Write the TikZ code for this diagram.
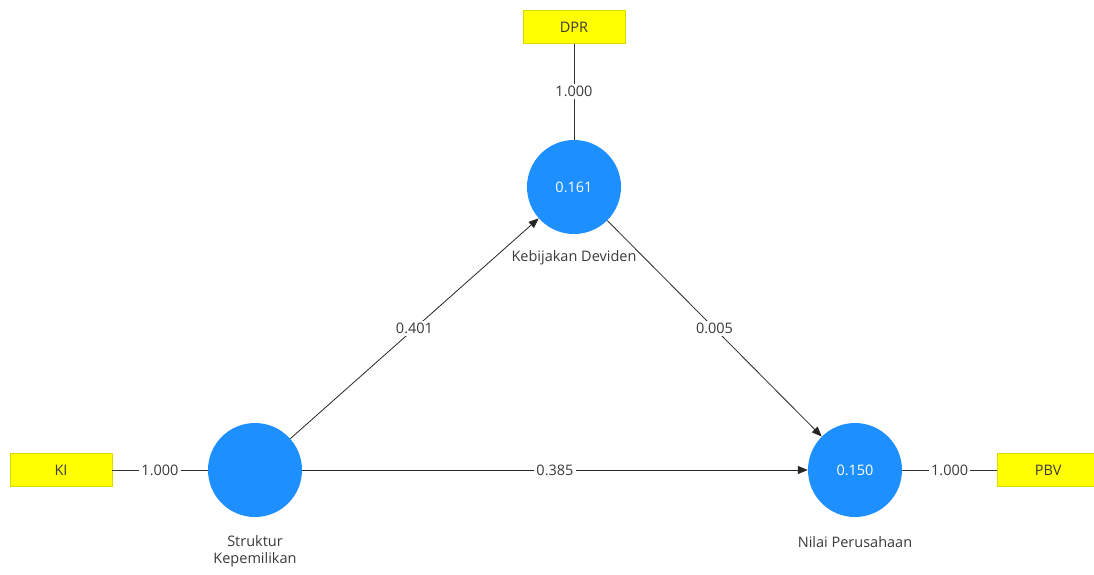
\documentclass[tikz,border=0pt]{standalone}
\usepackage{fontspec}
\setmainfont{Open Sans}
\usetikzlibrary{arrows.meta}
\definecolor{lvblue}{HTML}{1E8FFF}
\definecolor{mvyellow}{HTML}{FFFF00}
\definecolor{lnk}{HTML}{333333}
\definecolor{txt}{HTML}{3A3A3A}
\tikzset{
  fnt/.style={font=\fontsize{14.5}{17}\selectfont},
  latent/.style={circle, fill=lvblue, minimum size=94pt, inner sep=0pt, text=white, fnt},
  manifest/.style={rectangle, fill=mvyellow, draw=mvyellow!85!black, line width=0.4pt, minimum width=102pt, minimum height=33pt, inner sep=0pt, text=txt, fnt},
  lbl/.style={text=txt, fnt, align=center, inner sep=1pt},
  edgelbl/.style={fill=white, text=txt, fnt, inner sep=2pt},
  conn/.style={draw=lnk, line width=0.8pt},
  path/.style={draw=black!85, line width=0.8pt, -{Triangle[length=10pt,width=8pt]}}
}
\begin{document}
\begin{tikzpicture}[x=1pt,y=-1pt]
\useasboundingbox (0,0) rectangle (1094,574);
\node[latent] (sk) at (255,470) {};
\node[latent] (kd) at (574,187) {0.161};
\node[latent] (np) at (855,470) {0.150};
\node[lbl] (sklab) at (255,551) {Struktur\\Kepemilikan};
\node[lbl] (kdlab) at (574,258) {Kebijakan Deviden};
\node[lbl] (nplab) at (855,542) {Nilai Perusahaan};
\node[manifest] (ki) at (61,470) {KI};
\node[manifest] (dpr) at (574,27) {DPR};
\node[manifest, anchor=west] (pbv) at (997,470) {PBV};
\draw[conn] (ki.east) -- node[edgelbl] {1.000} (sk.west);
\draw[conn] (dpr.south) -- node[edgelbl] {1.000} (kd.north);
\draw[conn] (np.east) -- node[edgelbl] {1.000} (pbv.west);
\draw[path] (sk) -- node[edgelbl] {0.401} (kd);
\draw[path] (kd) -- node[edgelbl] {0.005} (np);
\draw[path] (sk) -- node[edgelbl] {0.385} (np);
\end{tikzpicture}
\end{document}
